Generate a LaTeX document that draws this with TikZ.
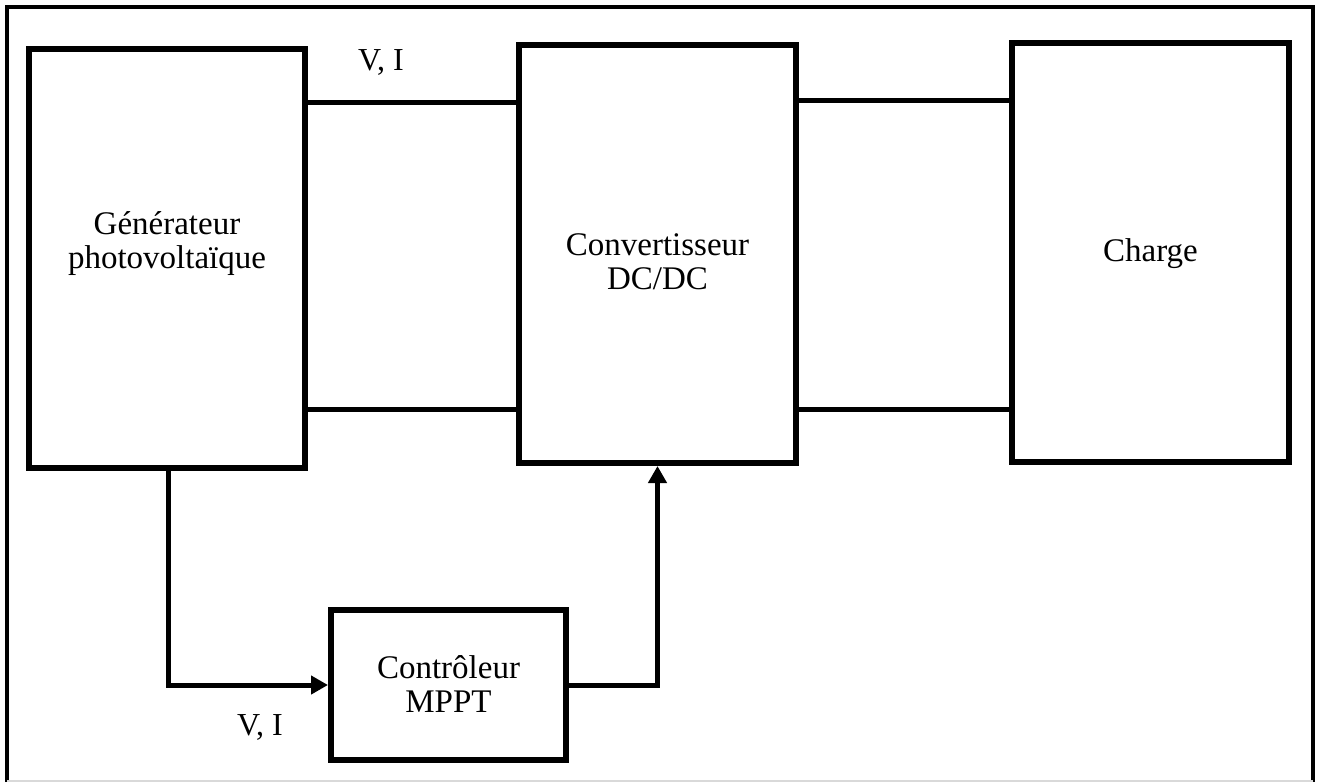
\documentclass[tikz,border=0pt]{standalone}
\usepackage{fontspec}
\setmainfont{Liberation Serif}
\usetikzlibrary{arrows.meta}
% text block whose ink is moved by #1 while the node keeps its size
\newcommand\blktext[2]{\raisebox{#1}[\height][\depth]{\begin{tabular}{@{}c@{}}#2\end{tabular}}}
\begin{document}
\begin{tikzpicture}[x=1pt,y=-1pt,
  blockbox/.style={draw,line width=6pt,inner sep=0pt,
    font=\fontsize{33pt}{34.5pt}\selectfont},
  wire/.style={line width=5pt},
  sig/.style={line width=5pt,-{Triangle[length=17pt,width=18pt]}},
  lbl/.style={inner sep=0pt,font=\fontsize{32pt}{36pt}\selectfont}]
\useasboundingbox (0,0) rectangle (1319,782);
% outer frame
\draw[line width=4pt] (7,782) -- (7,6.5) -- (1313,6.5) -- (1313,782);
\draw[black!15,line width=1.5pt] (7,781) -- (1313,781);
% blocks
\node[blockbox,minimum width=276pt,minimum height=419pt] (gen) at (167,258) {\blktext{13.5pt}{Générateur\\photovoltaïque}};
\node[blockbox,minimum width=277pt,minimum height=418pt] (conv) at (657.5,254) {\blktext{-11.5pt}{Convertisseur\\DC/DC}};
\node[blockbox,minimum width=277pt,minimum height=419pt] (charge) at (1150.5,252.5) {\blktext{-2.5pt}{Charge}};
\node[blockbox,minimum width=235pt,minimum height=150pt] (mppt) at (448.5,685) {\blktext{-3.5pt}{Contrôleur\\MPPT}};
% power lines
\draw[wire] (gen.east |- 0,102) -- (conv.west |- 0,102);
\draw[wire] (gen.east |- 0,409) -- (conv.west |- 0,409);
\draw[wire] (conv.east |- 0,100) -- (charge.west |- 0,100);
\draw[wire] (conv.east |- 0,409) -- (charge.west |- 0,409);
% control loop
\draw[sig] (gen.south -| 168,0) |- (mppt.west);
\draw[sig] (mppt.east) -| (conv.south);
% labels
\node[lbl] (vi1) at (381,62) {V, I};
\node[lbl] (vi2) at (260,727) {V, I};
\end{tikzpicture}
\end{document}
